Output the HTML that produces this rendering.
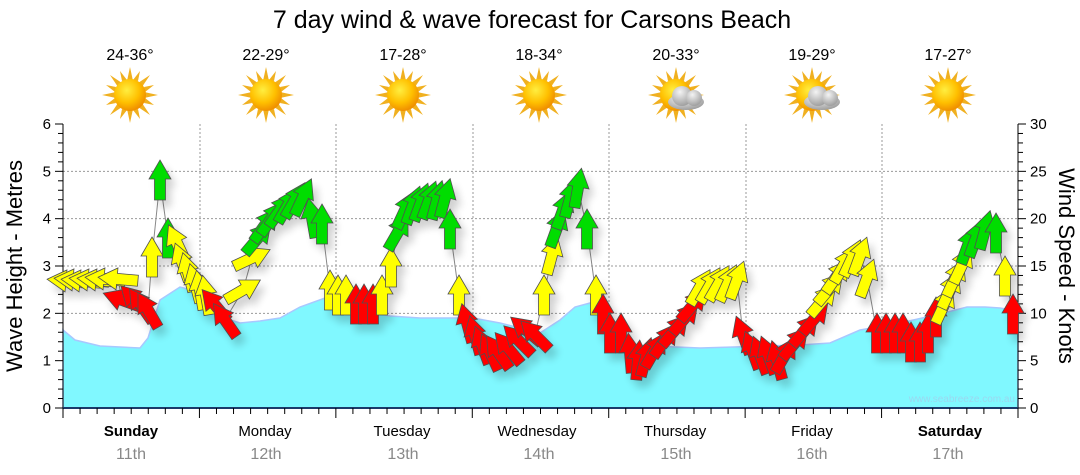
<!DOCTYPE html>
<html><head><meta charset="utf-8"><style>
html,body{margin:0;padding:0;background:#fff;}
svg{display:block;font-family:"Liberation Sans","DejaVu Sans",sans-serif;}
</style></head><body>
<svg id="c" width="1080" height="475" viewBox="0 0 1080 475" xmlns="http://www.w3.org/2000/svg">
<defs>
<radialGradient id="sg" cx="40%" cy="35%" r="65%"><stop offset="0" stop-color="#ffee40"/><stop offset="0.6" stop-color="#ffc000"/><stop offset="1" stop-color="#f09000"/></radialGradient>
<radialGradient id="cg" cx="40%" cy="30%" r="70%"><stop offset="0" stop-color="#f4f4f4"/><stop offset="1" stop-color="#a0a0a0"/></radialGradient>
<filter id="sh" x="-50%" y="-50%" width="200%" height="200%"><feGaussianBlur in="SourceAlpha" stdDeviation="4"/><feOffset dx="5" dy="7"/><feComponentTransfer><feFuncA type="linear" slope="0.18"/></feComponentTransfer><feMerge><feMergeNode/><feMergeNode in="SourceGraphic"/></feMerge></filter>
<g id="sun"><g fill="#f0b020"><polygon points="0,-28 3,-14 -3,-14"/><polygon points="0,28 3,14 -3,14"/><polygon points="-28,0 -14,3 -14,-3"/><polygon points="28,0 14,3 14,-3"/><polygon points="20,-20 12,-8 8,-12"/><polygon points="-20,-20 -12,-8 -8,-12"/><polygon points="20,20 12,8 8,12"/><polygon points="-20,20 -12,8 -8,12"/><polygon points="10,-24 8,-14 3,-15"/><polygon points="-10,-24 -8,-14 -3,-15"/><polygon points="10,24 8,14 3,15"/><polygon points="-10,24 -8,14 -3,15"/><polygon points="24,10 14,8 15,3"/><polygon points="-24,10 -14,8 -15,3"/><polygon points="24,-10 14,-8 15,-3"/><polygon points="-24,-10 -14,-8 -15,-3"/></g><circle r="16" fill="url(#sg)"/></g>
<g id="cloud" fill="url(#cg)"><ellipse cx="0" cy="6" rx="18" ry="8"/><circle cx="-4" cy="0" r="10"/><circle cx="8" cy="2" r="8"/></g>
</defs>
<text x="532" y="28" font-size="25" text-anchor="middle" fill="#000">7 day wind &amp; wave forecast for Carsons Beach</text>
<g font-size="16" text-anchor="middle" fill="#000">
<text x="130" y="60">24-36°</text><text x="266" y="60">22-29°</text><text x="403" y="60">17-28°</text><text x="539" y="60">18-34°</text><text x="676" y="60">20-33°</text><text x="812" y="60">19-29°</text><text x="948" y="60">17-27°</text>
</g>
<use href="#sun" x="130" y="95"/><use href="#sun" x="266" y="95"/><use href="#sun" x="403" y="95"/><use href="#sun" x="539" y="95"/><use href="#sun" x="676" y="95"/><use href="#sun" x="812" y="95"/><use href="#sun" x="948" y="95"/>
<use href="#cloud" x="686" y="96"/><use href="#cloud" x="822" y="96"/>
<g id="grid" stroke="#999" stroke-width="1" stroke-dasharray="2,2"></g>
<path d="M63,330 L75,340 L100,346 L140,348 L148,338 L160,300 L180,287 L200,292 L215,315 L240,323 L260,321 L280,318 L300,307 L325,298 L340,300 L360,310 L390,316 L420,318 L473,318 L500,323 L540,333 L560,320 L575,307 L590,303 L605,322 L630,345 L700,348 L800,345 L830,343 L860,330 L900,323 L940,314 L967,307 L985,307 L1000,308 L1018,311 L1018,408 L63,408 Z" fill="#80f8ff" stroke="#a8c8ff" stroke-width="1.5"/>
<text x="1015" y="402" font-size="10" text-anchor="end" fill="#9ad8f0">www.seabreeze.com.au</text>
<g id="axes"></g>
<polyline id="ln" fill="none" stroke="#888" stroke-width="1"/>
<g id="arr" filter="url(#sh)" stroke="#505050" stroke-width="0.8"></g>
<text transform="translate(22,266) rotate(-90)" font-size="22" text-anchor="middle">Wave Height - Metres</text>
<text transform="translate(1059,266) rotate(90)" font-size="22" text-anchor="middle">Wind Speed - Knots</text>
<g font-size="15" text-anchor="middle">
<text x="131" y="436" font-weight="bold">Sunday</text><text x="265" y="436">Monday</text><text x="402" y="436">Tuesday</text><text x="537" y="436">Wednesday</text><text x="675" y="436">Thursday</text><text x="812" y="436">Friday</text><text x="950" y="436" font-weight="bold">Saturday</text>
</g>
<g font-size="16" text-anchor="middle" fill="#888">
<text x="131" y="459">11th</text><text x="266" y="459">12th</text><text x="403" y="459">13th</text><text x="539" y="459">14th</text><text x="676" y="459">15th</text><text x="812" y="459">16th</text><text x="948" y="459">17th</text>
</g>
</svg>
<script>
var NS="http://www.w3.org/2000/svg";
function el(p,t,a,txt){var e=document.createElementNS(NS,t);for(var k in a)e.setAttribute(k,a[k]);if(txt!=null)e.textContent=txt;p.appendChild(e);return e;}
var L=63,R=1018,T=124,B=408;
var g=document.getElementById('grid');
for(var i=1;i<=5;i++){var y=B-i*(B-T)/6;el(g,'line',{x1:L,x2:R,y1:y,y2:y});}
[200,336,473,609,746,882].forEach(function(x){el(g,'line',{x1:x,x2:x,y1:T,y2:B});});
var ax=document.getElementById('axes');
el(ax,'line',{x1:L,x2:L,y1:T,y2:B,stroke:'#000'});
el(ax,'line',{x1:R,x2:R,y1:T,y2:B,stroke:'#000'});
el(ax,'line',{x1:L,x2:R,y1:B,y2:B,stroke:'#1a3a6a','stroke-width':2});
for(var i=0;i<=30;i++){var y=B-i*(B-T)/30;var maj=i%5==0;
 el(ax,'line',{x1:L-(maj?8:5),x2:L,y1:y,y2:y,stroke:'#000'});
 el(ax,'line',{x1:R,x2:R+(i%5==0?8:5),y1:y,y2:y,stroke:'#000'});
 if(maj){el(ax,'text',{x:L-12,y:y+5,'font-size':15,'text-anchor':'end'},String(i/5));
 el(ax,'text',{x:R+12,y:y+5,'font-size':15},String(i));}}
for(var i=0;i<=56;i++){var x=L+i*(R-L)/56;el(ax,'line',{x1:x,x2:x,y1:B,y2:B+(i%8==0?10:6),stroke:'#000'});}
var Y='#ffff00',G='#00dd00',Rd='#ff0000';
var A=[[67,281,-85,Y],[74,280,-85,Y],[81,281,-85,Y],[89,280,-85,Y],[97,280,-85,Y],[105,279,-85,Y],[118,279,-85,Y],
[122,300,-70,Rd],[135,300,-45,Rd],[141,305,-35,Rd],[148,310,-30,Rd],
[152,257,0,Y],[160,180,0,G],[168,238,0,G],
[177,243,-25,Y],[182,262,-20,Y],[188,272,-15,Y],[195,283,-15,Y],[200,290,-10,Y],[206,295,-10,Y],
[215,305,-40,Rd],[225,320,-35,Rd],
[243,290,60,Y],[252,258,65,Y],
[258,238,40,G],[265,225,35,G],[272,218,35,G],[280,210,35,G],[288,205,30,G],[295,200,30,G],[303,197,25,G],[312,218,-10,G],[322,224,0,G],
[330,290,0,Y],[338,295,0,Y],[346,295,0,Y],
[356,304,0,Rd],[364,304,0,Rd],[373,304,0,Rd],
[382,295,0,Y],[391,267,0,Y],[398,232,30,G],[405,210,25,G],[413,205,20,G],[421,202,20,G],[429,200,20,G],[437,200,15,G],[445,198,15,G],[450,229,0,G],[459,295,0,Y],
[467,323,-15,Rd],[475,335,-15,Rd],[482,345,-20,Rd],[490,352,-25,Rd],[498,352,-35,Rd],[508,348,-40,Rd],[518,340,-45,Rd],[526,330,-50,Rd],[535,335,-45,Rd],
[544,295,0,Y],[552,255,15,Y],[557,228,20,G],[563,210,20,G],[570,198,15,G],[578,188,10,G],[587,229,0,G],[596,295,0,Y],
[603,314,0,Rd],[610,333,0,Rd],[621,333,0,Rd],[630,353,-5,Rd],[638,360,5,Rd],[646,357,15,Rd],[655,350,30,Rd],[665,340,35,Rd],[675,330,40,Rd],[685,318,40,Rd],[693,305,40,Rd],
[700,287,30,Y],[710,285,30,Y],[719,283,30,Y],[728,283,25,Y],[737,280,20,Y],
[743,335,-20,Rd],[752,350,-20,Rd],[760,355,-20,Rd],[768,355,-20,Rd],[777,360,-15,Rd],[785,355,30,Rd],[795,343,40,Rd],[805,330,40,Rd],[815,318,40,Rd],
[823,300,40,Y],[830,288,40,Y],[837,276,35,Y],[844,265,30,Y],[852,258,25,Y],[860,256,20,Y],[867,278,20,Y],
[877,333,0,Rd],[886,333,0,Rd],[895,333,0,Rd],[903,333,0,Rd],[911,342,0,Rd],[920,342,0,Rd],[928,333,0,Rd],[936,317,0,Rd],
[944,305,25,Y],[950,290,25,Y],[955,278,25,Y],[962,265,25,Y],[968,245,20,G],[976,238,20,G],[985,230,15,G],[996,233,0,G],
[1005,276,0,Y],[1013,314,0,Rd]];
var ag=document.getElementById('arr');var pts=[];
A.forEach(function(a){pts.push(a[0]+','+a[1]);
 el(ag,'path',{d:'M0,-20 L11,-1 L5.5,-1 L5.5,20 L-5.5,20 L-5.5,-1 L-11,-1 Z',fill:a[3],transform:'translate('+a[0]+','+a[1]+') rotate('+a[2]+')'});});
document.getElementById('ln').setAttribute('points',pts.join(' '));
</script>
</body></html>
